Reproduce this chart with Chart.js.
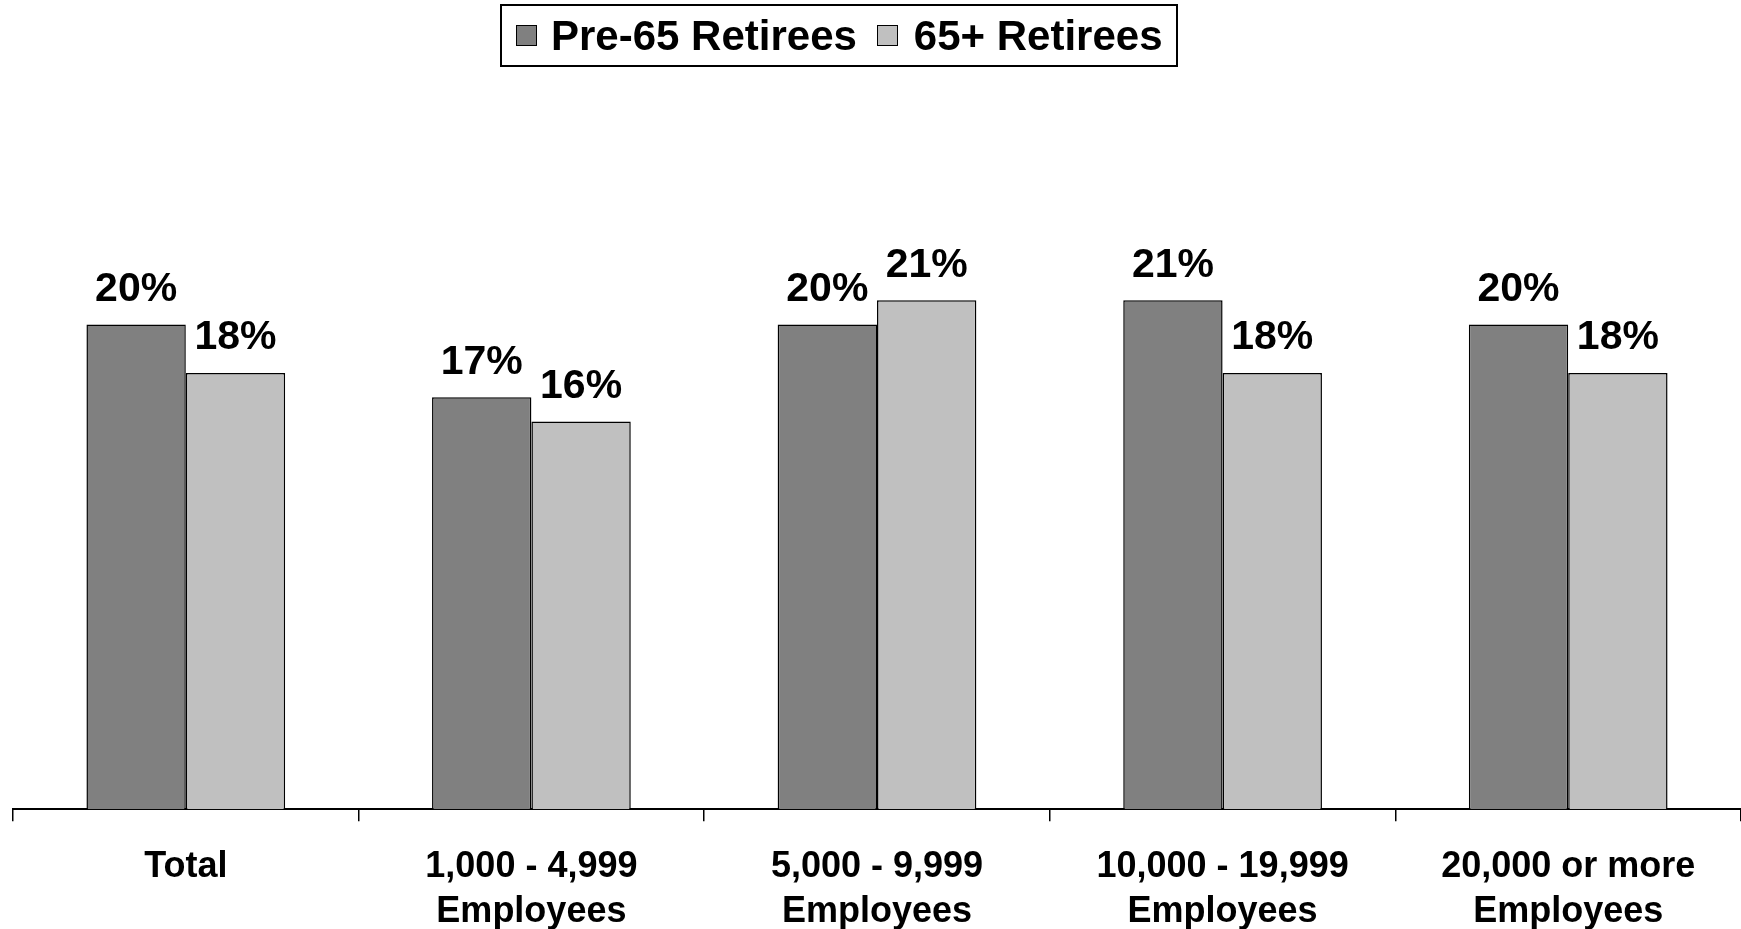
<!DOCTYPE html>
<html>
<head>
<meta charset="utf-8">
<script src="https://cdn.jsdelivr.net/npm/chart.js@4.4.1/dist/chart.umd.min.js"></script>
<style>
  html, body { margin: 0; padding: 0; background: #fff; overflow: hidden; }
  #wrap { position: relative; width: 1741px; height: 929px; overflow: hidden; }
  #legend {
    position: absolute; left: 500px; top: 4px; width: 674px; height: 59px;
    border: 2px solid #000; display: flex; align-items: center;
    font-family: "Liberation Sans", Arial, sans-serif; font-weight: bold; font-size: 42px;
  }
  .sw { width: 19px; height: 19px; border: 1px solid #000; display: inline-block; }
</style>
</head>
<body>
<div id="wrap">
  <canvas id="c" width="1741" height="958"></canvas>
  <div id="legend"></div>
</div>
<script>
const categories = [
  ["Total"],
  ["1,000 - 4,999", "Employees"],
  ["5,000 - 9,999", "Employees"],
  ["10,000 - 19,999", "Employees"],
  ["20,000 or more", "Employees"]
];
const seriesNames = ["Pre-65 Retirees", "65+ Retirees"];
const pre65 = [20, 17, 20, 21, 20];
const over65 = [18, 16, 21, 18, 18];
const colors = ["#808080", "#c0c0c0"];

const FONT = '"Liberation Sans", Arial, sans-serif';

// value labels above bars
const barLabels = {
  id: "barLabels",
  afterDatasetsDraw(chart) {
    const ctx = chart.ctx;
    ctx.save();
    ctx.font = "bold 41px " + FONT;
    ctx.fillStyle = "#000";
    ctx.textAlign = "center";
    ctx.textBaseline = "alphabetic";
    chart.data.datasets.forEach((ds, i) => {
      chart.getDatasetMeta(i).data.forEach((bar, j) => {
        ctx.fillText(ds.data[j] + "%", bar.x, bar.y - 23.5);
      });
    });
    ctx.restore();
  }
};

const chart = new Chart(document.getElementById("c"), {
  type: "bar",
  data: {
    labels: categories,
    datasets: [
      { label: seriesNames[0], data: pre65, backgroundColor: colors[0], borderColor: "#000", borderWidth: 1.5 },
      { label: seriesNames[1], data: over65, backgroundColor: colors[1], borderColor: "#000", borderWidth: 1.5 }
    ]
  },
  options: {
    responsive: false,
    animation: false,
    layout: { padding: { top: 82, left: 13, right: 0, bottom: 0 } },
    datasets: { bar: { barPercentage: 1, categoryPercentage: 0.575 } },
    plugins: { legend: { display: false }, tooltip: { enabled: false } },
    scales: {
      x: {
        grid: { offset: true, drawOnChartArea: false, drawTicks: true, tickLength: 12, color: "#000", lineWidth: 1.5 },
        border: { display: true, color: "#000", width: 2 },
        ticks: { color: "#000", font: { family: FONT, size: 36, weight: "bold", lineHeight: 1.26 }, padding: 23, maxRotation: 0, autoSkip: false }
      },
      y: { display: false, min: 0, max: 30 }
    }
  },
  plugins: [barLabels]
});

// legend built from the dataset names / colours
const legend = document.getElementById("legend");
legend.innerHTML =
  '<span class="sw" style="margin-left:14px;background:' + colors[0] + '"></span>' +
  '<span style="margin-left:14px">' + seriesNames[0] + '</span>' +
  '<span class="sw" style="margin-left:20px;background:' + colors[1] + '"></span>' +
  '<span style="margin-left:16px">' + seriesNames[1] + '</span>';
</script>
</body>
</html>
